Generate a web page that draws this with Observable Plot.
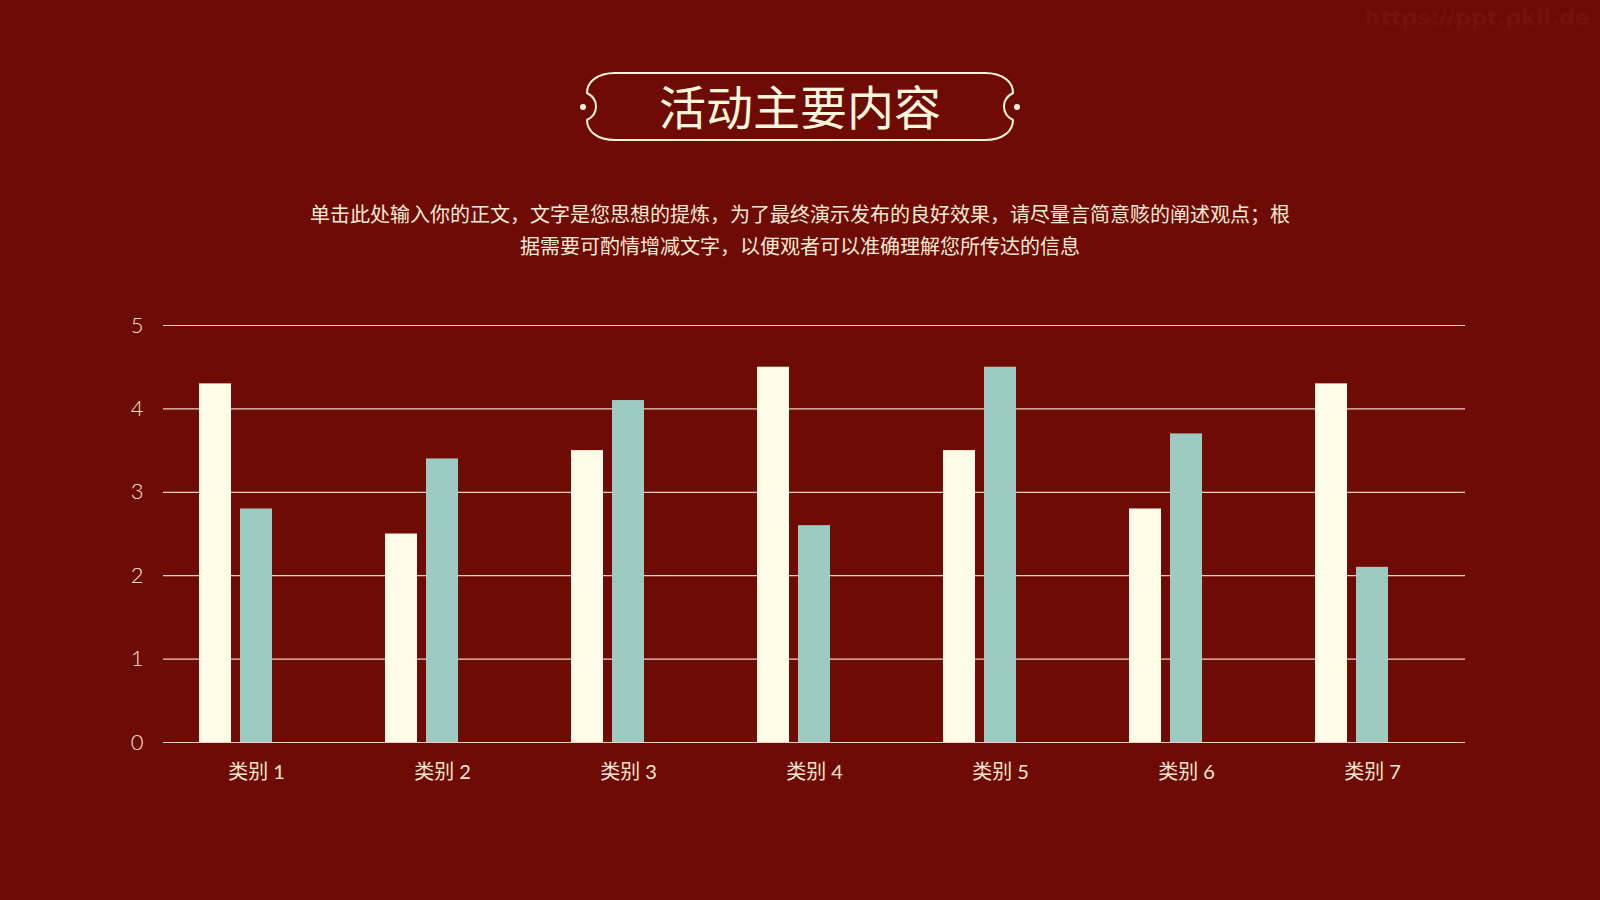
<!DOCTYPE html>
<html>
<head>
<meta charset="utf-8">
<script src="https://cdn.jsdelivr.net/npm/d3@7"></script>
<script src="https://cdn.jsdelivr.net/npm/@observablehq/plot@0.6"></script>
<style>
  html, body { margin:0; padding:0; }
  body { width:1600px; height:900px; background:#6e0b05; position:relative; overflow:hidden;
         font-family: "Lato", "Noto Sans CJK SC", sans-serif; }
  #frame { position:absolute; left:0; top:0; }
  #title { position:absolute; left:0; width:1600px; top:77px; text-align:center;
           font-family:"Noto Sans CJK SC", sans-serif; font-size:47px; line-height:56px;
           color:#fff6de; font-weight:400; }
  #subtitle { position:absolute; left:0; width:1600px; top:198px; text-align:center;
           font-family:"Noto Sans CJK SC", sans-serif; font-size:20px; line-height:32px;
           color:#f8ead6; font-weight:400; }
  #watermark { position:absolute; right:10px; top:5px; font-family:"DejaVu Sans", sans-serif;
           font-size:22px; font-weight:bold; color:rgba(255,255,255,0.05); }
  #chart { position:absolute; left:0; top:290px; }
</style>
</head>
<body>
<svg id="frame" width="1600" height="200">
  <path d="M615,73 L985,73 C1003,73 1013,82 1013,93 C1007,96 1004,101 1004,106.5 C1004,112 1007,117 1013,120 C1013,131 1003,140 985,140 L615,140 C597,140 587,131 587,120 C593,117 596,112 596,106.5 C596,101 593,96 587,93 C587,82 597,73 615,73 Z"
        fill="none" stroke="#fff3da" stroke-width="2"/>
  <circle cx="583" cy="107" r="3" fill="#fff3da"/>
  <circle cx="1017" cy="107" r="3" fill="#fff3da"/>
</svg>
<div id="watermark">https://ppt.pkll.de</div>
<div id="title">活动主要内容</div>
<div id="subtitle">单击此处输入你的正文，文字是您思想的提炼，为了最终演示发布的良好效果，请尽量言简意赅的阐述观点；根<br>据需要可酌情增减文字，以便观者可以准确理解您所传达的信息</div>
<div id="chart"></div>
<script>
const categories = ["类别 1", "类别 2", "类别 3", "类别 4", "类别 5", "类别 6", "类别 7"];
const seriesNames = ["系列1", "系列2", "系列3"];
const series1 = [4.3, 2.5, 3.5, 4.5, 3.5, 2.8, 4.3];
const series2 = [2.8, 3.4, 4.1, 2.6, 4.5, 3.7, 2.1];
const yTicks = [0, 1, 2, 3, 4, 5];
const seriesColors = ["#fffde8", "#9ecbc1", "none"];

const rows = categories.flatMap((c, i) => [
  {cat: c, s: seriesNames[0], v: series1[i]},
  {cat: c, s: seriesNames[1], v: series2[i]}
]);

const chart = Plot.plot({
  width: 1600,
  height: 520,
  marginLeft: 161,
  marginRight: 133,
  marginTop: 35,
  marginBottom: 68,
  style: {background: "transparent", color: "#f5e6d2", fontFamily: "Lato, 'Noto Sans CJK SC', sans-serif", fontSize: "21px", overflow: "visible"},
  fx: {domain: categories, padding: 0, label: null},
  x: {domain: seriesNames, paddingInner: 0.22, paddingOuter: 0.87, axis: null},
  y: {domain: [0, 5], label: null},
  color: {domain: seriesNames, range: seriesColors},
  marks: [
    Plot.gridY(yTicks, {stroke: "#ecd2c2", strokeOpacity: 1, strokeWidth: 1.2}),
    Plot.barY(rows, {fx: "cat", x: "s", y: "v", fill: "s"}),
    Plot.axisY(yTicks, {tickSize: 0, tickPadding: 20, label: null, fontSize: 22, fontWeight: 300, tickFormat: d3.format("d")}),
    Plot.axisFx({anchor: "bottom", tickSize: 0, tickPadding: 22, label: null, fontSize: 20})
  ]
});
document.getElementById("chart").appendChild(chart);
</script>
</body>
</html>
